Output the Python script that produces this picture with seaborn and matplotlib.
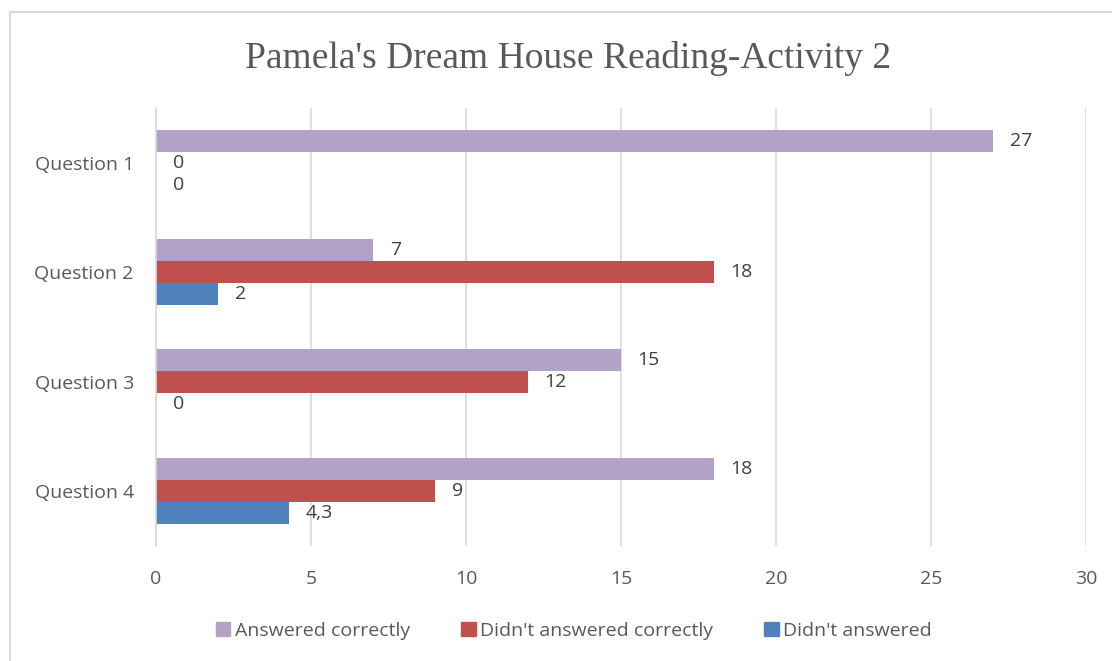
import matplotlib
matplotlib.use("Agg")
import matplotlib.pyplot as plt
import matplotlib.patches as mpatches
import seaborn as sns
import pandas as pd

questions = ["Question 1", "Question 2", "Question 3", "Question 4"]
series = ["Answered correctly", "Didn't answered correctly", "Didn't answered"]
answered_correctly = [27, 7, 15, 18]
didnt_correctly = [0, 18, 12, 9]
didnt_answered = [0, 2, 0, 4.3]
colors = ["#B3A2C7", "#C0504D", "#4F81BD"]
x_ticks = [0, 5, 10, 15, 20, 25, 30]
title = "Pamela's Dream House Reading-Activity 2"

rows = []
for s, vals in zip(series, [answered_correctly, didnt_correctly, didnt_answered]):
    for q, v in zip(questions, vals):
        rows.append({"Question": q, "Series": s, "Value": v})
df = pd.DataFrame(rows)

sns.set_theme(style="white")
plt.rcParams["font.family"] = ["Open Sans", "DejaVu Sans"]

fig = plt.figure(figsize=(11.12, 6.61), dpi=100)
ax = fig.add_axes([156/1112, 1-546/661, (1086-156)/1112, (546-108)/661])

sns.barplot(data=df, y="Question", x="Value", hue="Series", order=questions,
            hue_order=series, palette=colors, orient="h", width=0.6,
            saturation=1, ax=ax, legend=False, edgecolor="none")

ax.set_xlim(0, 30)
ax.set_ylim(3.5, -0.5)
ax.set_xticks(x_ticks)
ax.set_xticklabels([str(t) for t in x_ticks])
ax.set_xlabel("")
ax.set_ylabel("")
ax.grid(axis="x", color="#D9D9D9", linewidth=1.2)
ax.set_axisbelow(True)
for sp in ["top", "right", "bottom"]:
    ax.spines[sp].set_visible(False)
ax.spines["left"].set_color("#D9D9D9")
ax.spines["left"].set_linewidth(1.2)
ax.tick_params(axis="x", length=0, pad=17, labelsize=14, labelcolor="#595959")
ax.tick_params(axis="y", length=0, pad=16, labelsize=14, labelcolor="#595959")

for cont in ax.containers:
    for bar in cont:
        w = bar.get_width()
        lbl = f"{w:g}".replace(".", ",")
        ax.annotate(lbl, (w, bar.get_y() + bar.get_height()/2),
                    xytext=(12, 0), textcoords="offset points",
                    va="center", ha="left", fontsize=14, color="#404040")

fig.text(568/1112, 1-58/661, title, ha="center", va="center",
         fontsize=27, color="#595959", family="Liberation Serif")

handles = [mpatches.Patch(color=c, label=s) for c, s in zip(colors, series)]
fig.legend(handles=handles, loc="center", bbox_to_anchor=(574/1112, 1-631/661),
           ncol=3, frameon=False, fontsize=14, handlelength=0.75, handleheight=0.75,
           handletextpad=0.25, columnspacing=2.6, labelcolor="#595959")

border = mpatches.Rectangle((10/1112, -0.05), 1.2, 1-12/661+0.05,
                            transform=fig.transFigure, fill=False,
                            edgecolor="#D9D9D9", linewidth=1.5)
fig.patches.append(border)

fig.savefig("out.png", dpi=100)
